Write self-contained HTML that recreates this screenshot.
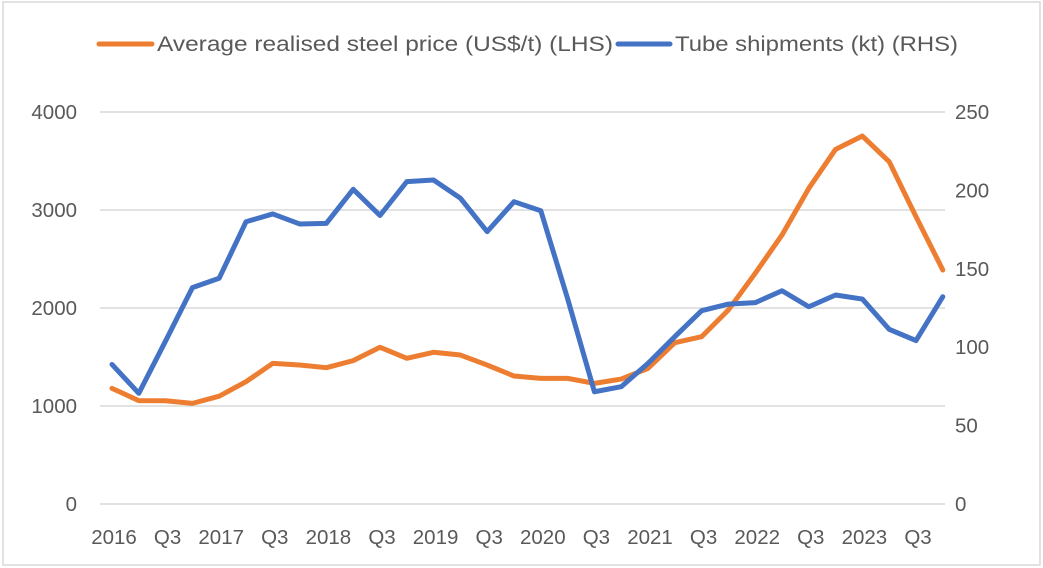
<!DOCTYPE html>
<html><head><meta charset="utf-8"><style>
html,body{margin:0;padding:0;background:#fff;}
svg{display:block;font-family:"Liberation Sans",sans-serif;}
</style></head><body>
<svg id="chart" width="1043" height="568" viewBox="0 0 1043 568" xmlns="http://www.w3.org/2000/svg">
<rect x="3" y="2" width="1037" height="563" fill="#fff" stroke="#d9d9d9" stroke-width="1.5"/>
<g id="grid"></g><g id="axes"></g><g id="series"></g>
<g>
<g>
<line x1="99" y1="44" x2="152" y2="44" stroke="#ED7D31" stroke-width="5" stroke-linecap="round"/>
<text x="157" y="51" font-size="21" fill="#595959" textLength="456" lengthAdjust="spacingAndGlyphs">Average realised steel price (US$/t) (LHS)</text></g>
<g>
<line x1="618" y1="44" x2="670" y2="44" stroke="#4472C4" stroke-width="5" stroke-linecap="round"/>
<text x="675" y="51" font-size="21" fill="#595959" textLength="283" lengthAdjust="spacingAndGlyphs">Tube shipments (kt) (RHS)</text></g>
</g>
</svg>
<script>
const categories=["2016","Q2","Q3","Q4","2017","Q2","Q3","Q4","2018","Q2","Q3","Q4","2019","Q2","Q3","Q4","2020","Q2","Q3","Q4","2021","Q2","Q3","Q4","2022","Q2","Q3","Q4","2023","Q2","Q3","Q4"];
const steelPrice=[1180,1055,1054,1027,1100,1248,1435,1418,1391,1463,1599,1487,1548,1520,1418,1306,1282,1282,1231,1275,1384,1646,1707,1980,2354,2745,3221,3619,3755,3493,2932,2388];
const tubeShipments=[89,70.6,104,138,144,180,185,178.6,179,200.7,184,205.6,206.6,195,173.7,192.8,187,131,71.6,74.8,89.7,106.7,123.3,127.5,128.4,136,125.8,133.3,130.7,111.4,104.2,132.2];
const leftTicks=[0,1000,2000,3000,4000];
const rightTicks=[0,50,100,150,200,250];
const NS="http://www.w3.org/2000/svg";
const X0=112,DX=26.8,Y0=504,H=392;
const x=i=>X0+i*DX;
const yL=v=>Y0-v/4000*H;
const yR=v=>Y0-v/250*H;
function mk(tag,attrs,parent,txt){const e=document.createElementNS(NS,tag);for(const k in attrs)e.setAttribute(k,attrs[k]);if(txt!==undefined)e.textContent=txt;parent.appendChild(e);return e;}
const grid=document.getElementById('grid'),axes=document.getElementById('axes'),ser=document.getElementById('series');
leftTicks.forEach(v=>{
 const g=mk('line',{x1:100,x2:945,y1:yL(v),y2:yL(v),stroke:'#d9d9d9','stroke-width':1.5},grid);
 
 
 const t=mk('text',{x:77,y:yL(v)+7,'text-anchor':'end','font-size':20.5,fill:'#595959'},axes,String(v));
 
 
});
rightTicks.forEach(v=>{
 const t=mk('text',{x:955,y:yR(v)+7,'font-size':20.5,fill:'#595959'},axes,String(v));
 
 
});
categories.forEach((c,i)=>{
 if(i%2)return;
 const t=mk('text',{x:x(i)+2,y:544,'text-anchor':'middle','font-size':20.5,fill:'#595959'},axes,c);
 
 
});
const p1=mk('polyline',{points:steelPrice.map((v,i)=>x(i)+','+yL(v)).join(' '),fill:'none',stroke:'#ED7D31','stroke-width':5,'stroke-linejoin':'round','stroke-linecap':'round'},ser);


const p2=mk('polyline',{points:tubeShipments.map((v,i)=>x(i)+','+yR(v)).join(' '),fill:'none',stroke:'#4472C4','stroke-width':5,'stroke-linejoin':'round','stroke-linecap':'round'},ser);


</script>
</body></html>
